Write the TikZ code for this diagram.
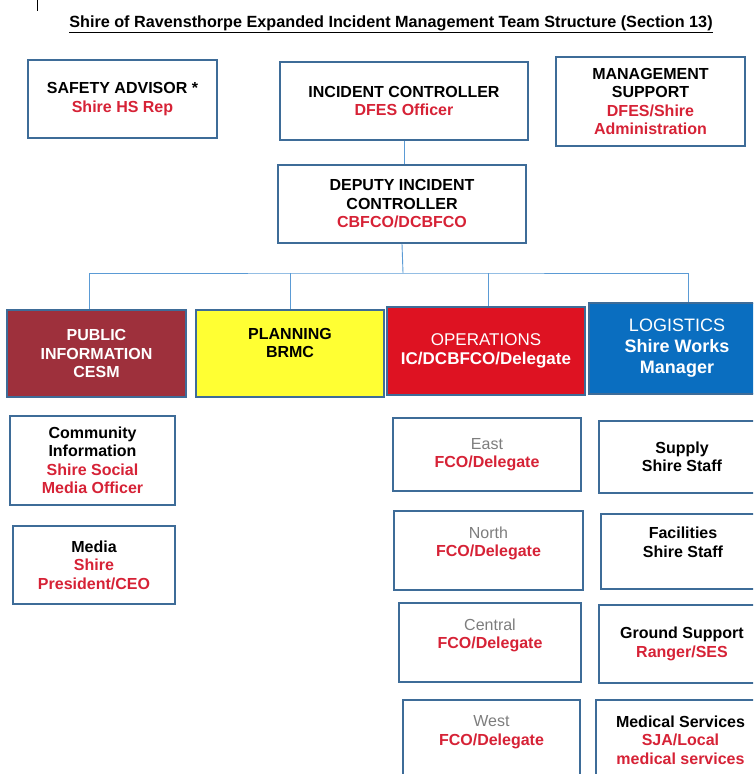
\documentclass[tikz,border=0pt]{standalone}
\usepackage{fontspec}
\setmainfont{Liberation Sans}
\definecolor{boxblue}{RGB}{62,108,152}
\definecolor{linkblue}{RGB}{91,155,213}
\definecolor{txtred}{RGB}{214,34,54}
\definecolor{txtgray}{RGB}{125,125,125}
\definecolor{pimaroon}{RGB}{158,48,60}
\definecolor{planyellow}{RGB}{255,255,51}
\definecolor{opsred}{RGB}{222,18,34}
\definecolor{logblue}{RGB}{10,110,192}
\tikzset{
  box/.style={draw=boxblue,line width=1.6pt,align=center,inner sep=0pt,
    font=\bfseries\fontsize{16}{18.5}\selectfont},
  lift/.style={execute at end node={\rule[-#1]{0pt}{#1}}},
  link/.style={draw=linkblue,line width=0.9pt},
}
\begin{document}
\begin{tikzpicture}[x=1pt,y=-1pt]
        \useasboundingbox (0,0) rectangle (753,774);
        \clip (0,0) rectangle (753,774);
        \draw[line width=0.8pt] (37,0) -- (37,11);
        \node[anchor=base,font=\bfseries\fontsize{16.2}{19}\selectfont](title)at(391,27){\underline{Shire of Ravensthorpe Expanded Incident Management Team Structure (Section 13)}};
        % top row
        \node[box,minimum width=189pt,minimum height=78pt](sa)at(122.5,99){SAFETY ADVISOR *\\\textcolor{txtred}{Shire HS Rep}};
        \node[box,minimum width=248pt,minimum height=78pt](ic)at(404,101){INCIDENT CONTROLLER\\\textcolor{txtred}{DFES Officer}};
        \node[box,minimum width=189pt,minimum height=89pt](ms)at(650.5,101.5){MANAGEMENT\\SUPPORT\\\textcolor{txtred}{DFES/Shire}\\\textcolor{txtred}{Administration}};
        \node[box,minimum width=248pt,minimum height=78pt](dic)at(402,204){DEPUTY INCIDENT\\CONTROLLER\\\textcolor{txtred}{CBFCO/DCBFCO}};
        % sections
        \node[box,fill=pimaroon,text=white,minimum width=179pt,minimum height=87pt](pi)at(96.5,353.5){PUBLIC\\INFORMATION\\CESM};
        \node[box,fill=planyellow,minimum width=188pt,minimum height=87pt,lift=21pt](plan)at(290,353.5){PLANNING\\BRMC};
        \node[box,fill=opsred,text=white,minimum width=198pt,minimum height=88pt,font=\bfseries\fontsize{17}{19}\selectfont](ops)at(486,351){{\mdseries OPERATIONS}\\IC/DCBFCO/Delegate};
        \node[box,fill=logblue,text=white,minimum width=176pt,minimum height=91pt,font=\bfseries\fontsize{18}{21}\selectfont](log)at(677,348.5){{\mdseries LOGISTICS}\\Shire Works\\Manager};
        \coordinate (bar) at (403,273);
        \draw[link](ic.south)--(ic.south|-dic.north);
        \draw[link](dic.south)--(bar);
        \draw[link]([xshift=-7.5pt]pi.north)|-(bar)-|([xshift=11pt]log.north);
        \draw[link](plan.north)--(plan.north|-bar);
        \draw[link]([xshift=2pt]ops.north)--([xshift=2pt]ops.north|-bar);
        % public information
        \node[box,minimum width=165pt,minimum height=89pt](ci)at(92.5,460.5){Community\\Information\\\textcolor{txtred}{Shire Social}\\\textcolor{txtred}{Media Officer}};
        \node[box,minimum width=162pt,minimum height=78pt](med)at(94,565){Media\\\textcolor{txtred}{Shire}\\\textcolor{txtred}{President/CEO}};
        % operations
        \node[box,minimum width=188pt,minimum height=73pt](east)at(487,454.5){\textcolor{txtgray}{\mdseries East}\\\textcolor{txtred}{FCO/Delegate}};
        \node[box,minimum width=189pt,minimum height=79pt,lift=18pt](north)at(488.5,550.5){\textcolor{txtgray}{\mdseries North}\\\textcolor{txtred}{FCO/Delegate}};
        \node[box,minimum width=182pt,minimum height=79pt,lift=18pt](central)at(490,642.5){\textcolor{txtgray}{\mdseries Central}\\\textcolor{txtred}{FCO/Delegate}};
        \node[box,minimum width=177pt,minimum height=79pt,lift=18pt](west)at(491.5,739.5){\textcolor{txtgray}{\mdseries West}\\\textcolor{txtred}{FCO/Delegate}};
        % logistics
        \node[box,minimum width=166pt,minimum height=72pt](sup)at(682,457){Supply\\Shire Staff};
        \node[box,minimum width=164pt,minimum height=75pt,lift=19pt](fac)at(683,551.5){Facilities\\Shire Staff};
        \node[box,minimum width=166pt,minimum height=78pt](gs)at(682,644){Ground Support\\\textcolor{txtred}{Ranger/SES}};
        \node[box,minimum width=169pt,minimum height=80pt](mds)at(680.5,740){Medical Services\\\textcolor{txtred}{SJA/Local}\\\textcolor{txtred}{medical services}};
    \end{tikzpicture}
\end{document}
